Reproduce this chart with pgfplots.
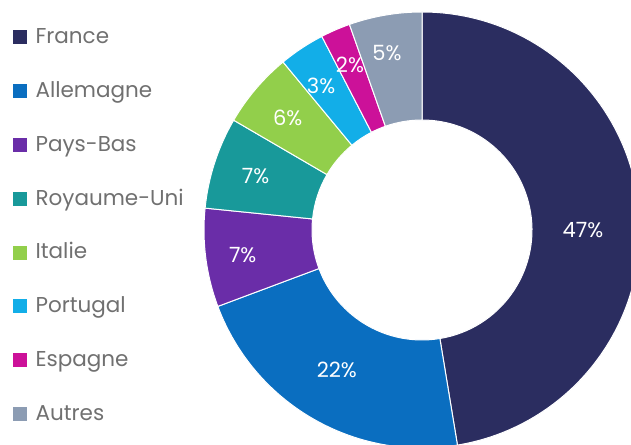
\documentclass[border=0pt]{standalone}
\usepackage{pgfplots}
\pgfplotsset{compat=1.18}
\usepackage{pgfplotstable}
\usepackage{fontspec}
\setmainfont{Poppins}

\definecolor{cFR}{HTML}{2B2D60}
\definecolor{cDE}{HTML}{0A6EC0}
\definecolor{cNL}{HTML}{6A2DA8}
\definecolor{cUK}{HTML}{18999A}
\definecolor{cIT}{HTML}{92CF4B}
\definecolor{cPT}{HTML}{12AEE8}
\definecolor{cES}{HTML}{CC1199}
\definecolor{cOT}{HTML}{8C9CB3}
\definecolor{legtext}{HTML}{707070}

% shares in percent, clockwise from the top; start = sum of the shares before
% la/lr = angle (clockwise from top) and radius of the label
\pgfplotstableread{
name        value start label col la    lr
France      47.4  0.0   47    cFR 90.2  161
Allemagne   21.9  47.4  22    cDE 211.3 164
Pays-Bas    7.3   69.3  7     cNL 262.1 181
Royaume-Uni 6.8   76.6  7     cUK 288.0 175
Italie      5.6   83.4  6     cIT 309.9 175
Portugal    3.4   89.0  3     cPT 325.0 176
Espagne     2.2   92.4  2     cES 336.4 180
Autres      5.4   94.6  5     cOT 348.8 180
}\shares

\begin{document}
\begin{tikzpicture}
\begin{axis}[
    x=1bp, y=1bp,
    xmin=0, xmax=631, ymin=0, ymax=445,
    hide axis,
    legend cell align=left,
    legend image code/.code={\fill[#1] (0bp,-4.5bp) rectangle (13bp,8.5bp);},
    legend style={
        at={(axis cs:13,416.5)}, anchor=north west,
        draw=none, fill=none, inner sep=0pt,
        row sep=32.8bp, column sep=9bp,
        font=\fontsize{21.5bp}{25bp}\selectfont, text=legtext,
        nodes={inner sep=0pt, text height=15bp, text depth=6bp},
    },
]
\pgfplotstablegetrowsof{\shares}
\pgfmathtruncatemacro\last{\pgfplotsretval-1}
\pgfplotsforeachungrouped \i in {0,...,\last}{%
    \pgfplotstablegetelem{\i}{value}\of\shares \let\val\pgfplotsretval
    \pgfplotstablegetelem{\i}{start}\of\shares \let\st\pgfplotsretval
    \pgfplotstablegetelem{\i}{label}\of\shares \let\lab\pgfplotsretval
    \pgfplotstablegetelem{\i}{col}\of\shares \let\col\pgfplotsretval
    \pgfplotstablegetelem{\i}{la}\of\shares \let\la\pgfplotsretval
    \pgfplotstablegetelem{\i}{lr}\of\shares \let\lr\pgfplotsretval
    \pgfmathsetmacro\aA{90-3.6*\st}%
    \pgfmathsetmacro\aB{90-3.6*(\st+\val)}%
    \pgfmathsetmacro\aM{90-\la}%
    \edef\slice{%
        \noexpand\filldraw[fill=\col, draw=white, line width=1bp]
            ([shift={(\aA:218bp)}]axis cs:422,215)
            arc[start angle=\aA, end angle=\aB, radius=218bp]
            -- ([shift={(\aB:110bp)}]axis cs:422,215)
            arc[start angle=\aB, end angle=\aA, radius=110bp] -- cycle;
        \noexpand\node[text=white, font=\noexpand\fontsize{21bp}{24bp}\noexpand\selectfont]
            at ([shift={(\aM:\lr bp)}]axis cs:422,215) {\lab\noexpand\%};
    }%
    \slice
}

\addlegendimage{cFR}\addlegendentry{France}
\addlegendimage{cDE}\addlegendentry{Allemagne}
\addlegendimage{cNL}\addlegendentry{Pays-Bas}
\addlegendimage{cUK}\addlegendentry{Royaume-Uni}
\addlegendimage{cIT}\addlegendentry{Italie}
\addlegendimage{cPT}\addlegendentry{Portugal}
\addlegendimage{cES}\addlegendentry{Espagne}
\addlegendimage{cOT}\addlegendentry{Autres}
\end{axis}
\pgfresetboundingbox
\path (current axis.south west) rectangle (current axis.north east);
\end{tikzpicture}
\end{document}
